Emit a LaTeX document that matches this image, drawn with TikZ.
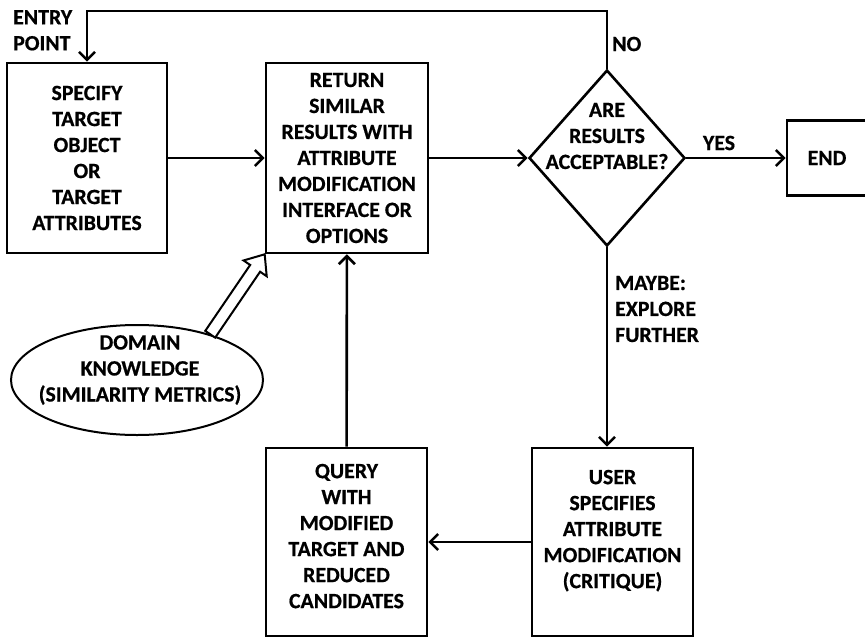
\documentclass[tikz,border=0pt]{standalone}
\usepackage{fontspec}
\setmainfont{Carlito}[BoldFeatures={FakeBold=0.6}]
\usetikzlibrary{arrows.meta}
\usetikzlibrary{shapes.geometric}
\usetikzlibrary{calc}
\usetikzlibrary{positioning}

\tikzset{
  txt/.style={font=\fontsize{21.8}{26}\selectfont\bfseries, align=center, inner sep=0pt},
  box/.style={txt, draw, line width=2.6pt},
  arr/.style={line width=2.6pt, -{Straight Barb[length=8pt,width=16pt]}}
}

\begin{document}
\begin{tikzpicture}[x=1pt, y=-1pt]
  \useasboundingbox (0,0) rectangle (865,637);
  \pgfmathsetmacro{\ya}{158}
  \pgfmathsetmacro{\yb}{542}
  \pgfmathsetmacro{\ytop}{11}

  \node[box, minimum width=160, minimum height=190] (spec) at (87,\ya)
    {SPECIFY\\TARGET\\OBJECT\\OR\\TARGET\\ATTRIBUTES};
  \node[box, minimum width=162, minimum height=190] (ret) at (347,\ya)
    {RETURN\\SIMILAR\\RESULTS WITH\\ATTRIBUTE\\MODIFICATION\\INTERFACE OR\\OPTIONS};
  \node[diamond, draw, line width=2.6pt, minimum width=156, minimum height=176, inner sep=0pt] (dec) at (607,\ya) {};
  \node[txt] (dectext) at (607,136) {ARE\\RESULTS\\ACCEPTABLE?};
  \node[box, minimum width=80, minimum height=75] (fin) at (827,\ya) {END};
  \node[box, minimum width=161, minimum height=188, text depth=12pt] (query) at (346.5,\yb)
    {QUERY\\WITH\\MODIFIED\\TARGET AND\\REDUCED\\CANDIDATES};
  \node[box, minimum width=161, minimum height=188, text depth=26pt] (user) at (612.5,\yb)
    {USER\\SPECIFIES\\ATTRIBUTE\\MODIFICATION\\(CRITIQUE)};
  \node[ellipse, draw, line width=2pt, minimum width=252, minimum height=110, inner sep=0pt] (dk) at (137,380) {};
  \node[txt] (dktext) at (140,370) {DOMAIN\\KNOWLEDGE\\(SIMILARITY METRICS)};

  \node[txt, align=left, anchor=north west] (entry) at (13,10) {ENTRY\\POINT};
  \node[txt, anchor=west] (no) at (612,44) {NO};
  \node[txt] (yes) at (719,143) {YES};
  \node[txt, align=left, anchor=west] (maybe) at (615,309) {MAYBE:\\EXPLORE\\FURTHER};

  \coordinate (tr) at (607,\ytop);
  \coordinate (tl) at (87,\ytop);
  \draw[arr] (dec.north) -- (tr) -- (tl) -- (spec.north);
  \draw[arr] (spec) -- (ret);
  \draw[arr] (ret) -- (dec);
  \draw[arr] (dec) -- (fin);
  \draw[arr] (dec.south) -- (dec.south |- user.north);
  \draw[arr] (user) -- (query);
  \draw[arr] (query) -- (ret);

  \coordinate (a) at (dk.32);
  \coordinate (b) at (ret.south west);
  \coordinate (h) at ($(b)!17pt!(a)$);
  \draw[line width=2pt, fill=white, line join=miter]
    ($(a)!6pt!90:(b)$) -- ($(h)!6pt!90:(b)$) -- ($(h)!14pt!90:(b)$) -- (b)
    -- ($(h)!14pt!-90:(b)$) -- ($(h)!6pt!-90:(b)$) -- ($(a)!6pt!-90:(b)$) -- cycle;
\end{tikzpicture}
\end{document}
